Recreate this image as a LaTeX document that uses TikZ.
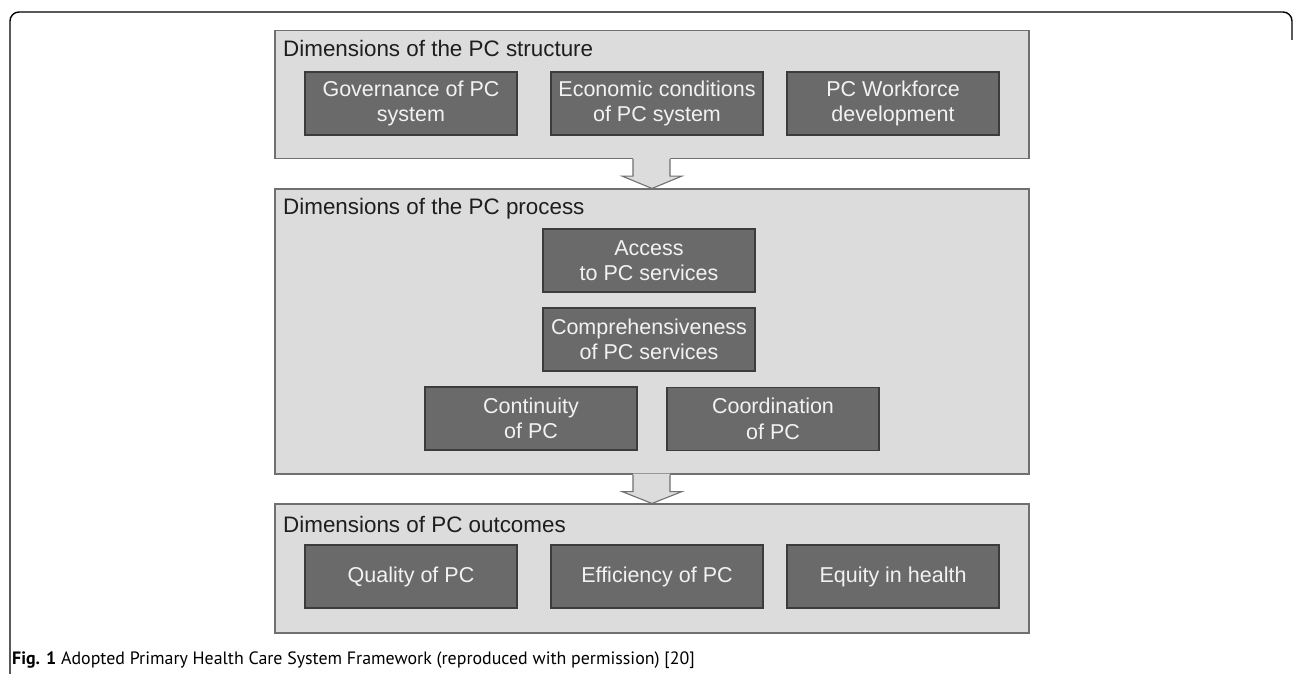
\documentclass[tikz,border=0pt]{standalone}
\usepackage{fontspec}
\setmainfont{Liberation Sans}
\newfontfamily\capfont{PT Sans}
\usetikzlibrary{calc}
\definecolor{panelfill}{HTML}{DCDCDC}
\definecolor{panelline}{HTML}{707070}
\definecolor{boxfill}{HTML}{6A6A6A}
\definecolor{boxline}{HTML}{3C3C3C}
\definecolor{boxtext}{HTML}{F2F2F2}
\definecolor{titletext}{HTML}{1E1E1E}
\tikzset{
  panel/.style={draw=panelline, fill=panelfill, line width=1.1pt, inner sep=0pt},
  dimbox/.style={draw=boxline, fill=boxfill, line width=1.1pt, minimum width=212pt,
    minimum height=63pt, inner sep=0pt, align=center, text=boxtext,
    font=\fontsize{21.5}{25.5}\selectfont},
  paneltitle/.style={anchor=base west, inner sep=0pt, text=titletext,
    font=\fontsize{22.4}{26}\selectfont},
  blockarrow/.style={draw=panelline, line width=1.1pt, line join=miter},
  frameline/.style={draw=black, line width=1.4pt, rounded corners=9pt}
}
\begin{document}
\begin{tikzpicture}[x=1pt,y=-1pt]
\useasboundingbox (0,0) rectangle (1293,674);

% outer frame, open at the bottom
\draw[frameline] (10,680) -- (10,12) -- (1292,12) -- (1292,40);

% the three panels
\node[panel, minimum width=754pt, minimum height=128pt] (structure) at (652,94.5) {};
\node[panel, minimum width=754pt, minimum height=285pt] (process) at (652,331.5) {};
\node[panel, minimum width=754pt, minimum height=129pt] (outcomes) at (652,568.5) {};

% panel titles
\node[paneltitle] (tstructure) at (283,57) {Dimensions of the PC structure};
\node[paneltitle] (tprocess) at (283,214) {Dimensions of the PC process};
\node[paneltitle] (toutcomes) at (283,532) {Dimensions of PC outcomes};

% structure dimensions
\node[dimbox] (gov) at (411,103.5) {Governance of PC\\system};
\node[dimbox] (econ) at (657,103.5) {Economic conditions\\of PC system};
\node[dimbox] (work) at (893,103.5) {PC Workforce\\development};

% process dimensions
\node[dimbox] (access) at (649,260.5) {Access\\to PC services};
\node[dimbox] (compr) at (649,339.5) {Comprehensiveness\\of PC services};
\node[dimbox] (cont) at (531,418.5) {Continuity\\of PC};
\node[dimbox] (coord) at (773,419) {Coordination\\of PC};

% outcome dimensions
\node[dimbox] (qual) at (411,576.5) {Quality of PC};
\node[dimbox] (eff) at (657,576.5) {Efficiency of PC};
\node[dimbox] (equ) at (893,576.5) {Equity in health};

% block arrows joining the panels
\foreach \src/\dst in {structure/process, process/outcomes} {
  \path let \p1=(\src.south), \p2=(\dst.north) in
    coordinate (s) at (\x1,\y1) coordinate (d) at (\x2,\y2);
  \fill[panelfill] ($(s)+(-19,-1)$) -- ($(s)+(-19,17)$) -- ($(s)+(-30,17)$) -- (d)
     -- ($(s)+(30,17)$) -- ($(s)+(18,17)$) -- ($(s)+(18,-1)$) -- cycle;
  \draw[blockarrow] ($(s)+(-19,0)$) -- ($(s)+(-19,17)$) -- ($(s)+(-30,17)$) -- (d)
     -- ($(s)+(30,17)$) -- ($(s)+(18,17)$) -- ($(s)+(18,0)$);
}

% caption
\node[anchor=base west, inner sep=0pt, font=\capfont\fontsize{17.9}{21}\selectfont] (caption) at (12,664)
  {\textbf{Fig. 1} Adopted Primary Health Care System Framework (reproduced with permission) [20]};
\end{tikzpicture}
\end{document}
